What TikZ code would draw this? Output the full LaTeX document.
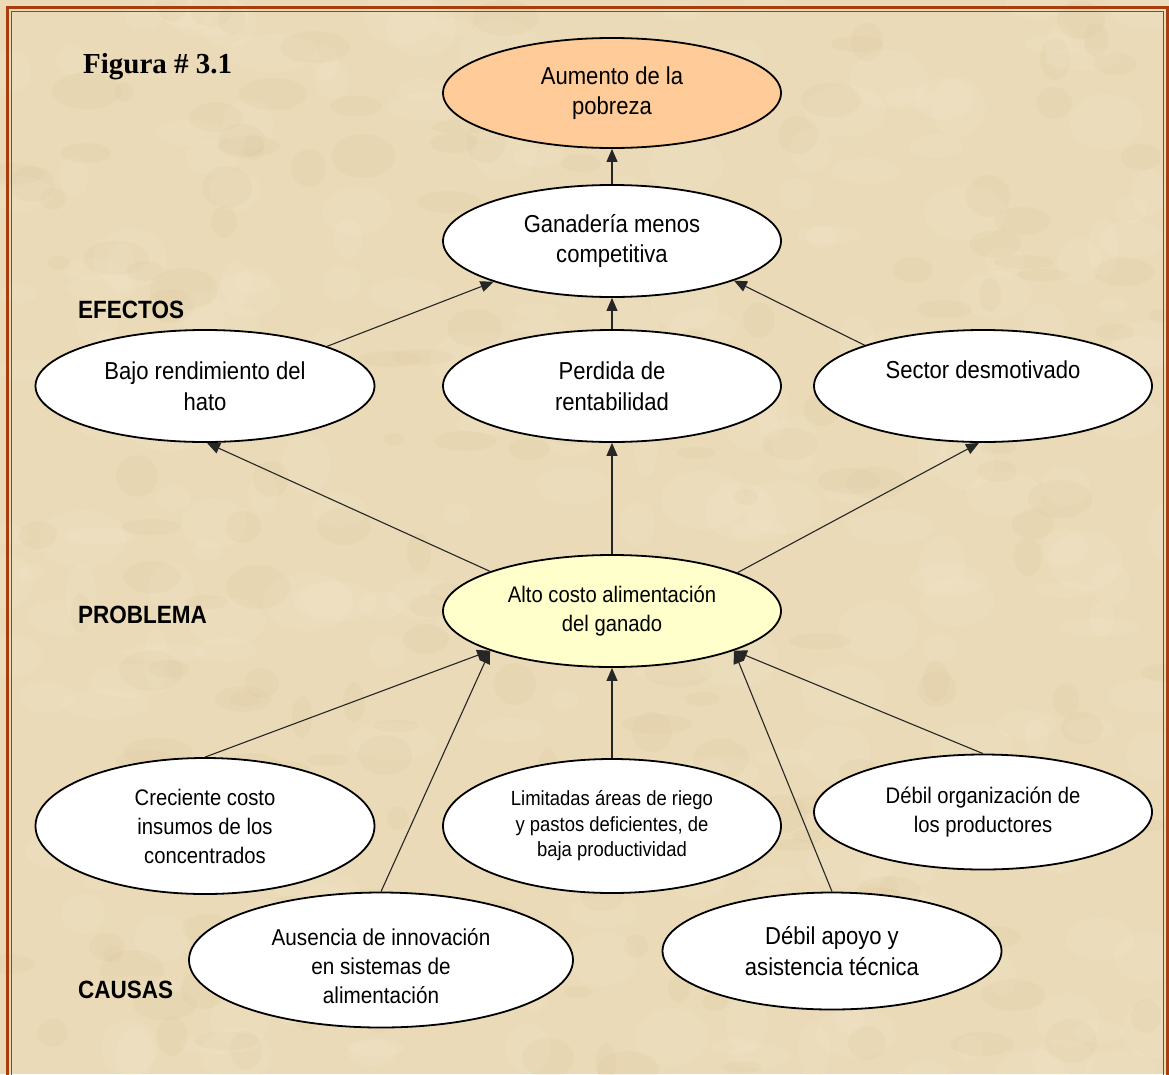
\documentclass[tikz,border=0pt]{standalone}
\usepackage{fontspec}
\setmainfont{Liberation Sans}[FakeStretch=0.9]
\newfontfamily\figfont{Liberation Serif}
\newfontfamily\labfont{Liberation Sans}[FakeStretch=0.9]
\usetikzlibrary{shapes.geometric,arrows.meta}
\definecolor{bgc}{RGB}{234,218,183}
\definecolor{texlight}{RGB}{246,234,208}
\definecolor{texdark}{RGB}{214,192,150}
\definecolor{framec}{RGB}{168,62,14}
\definecolor{orangefill}{RGB}{255,204,153}
\definecolor{yellowfill}{RGB}{255,255,204}
\tikzset{
  ell/.style={ellipse, draw=black, line width=1.8pt, fill=white, inner sep=0pt, align=center},
  bigtxt/.style={font=\fontsize{24.5}{30.5}\selectfont},
  midtxt/.style={font=\fontsize{22.5}{29}\selectfont},
  smalltxt/.style={font=\fontsize{20.5}{25.5}\selectfont},
  lab/.style={anchor=west, inner sep=0pt, font=\labfont\bfseries\fontsize{25}{28}\selectfont},
  arr/.style={-{Triangle[length=13pt,width=11pt]}, line width=1.1pt, draw=black!85},
}
\begin{document}
\begin{tikzpicture}[x=1pt,y=-1pt]
\useasboundingbox (0,0) rectangle (1169,1074);
\clip (0,0) rectangle (1169,1074);
\fill[bgc] (0,0) rectangle (1169,1074);
\pgfmathsetseed{11}
\foreach \i in {1,...,260}{
  \pgfmathsetmacro\xx{random(0,1169)}
  \pgfmathsetmacro\yy{random(0,1074)}
  \pgfmathsetmacro\ra{random(12,45)}
  \pgfmathsetmacro\rb{random(8,30)}
  \fill[texlight, opacity=0.16] (\xx,\yy) ellipse ({\ra} and {\rb});
}
\foreach \i in {1,...,200}{
  \pgfmathsetmacro\xx{random(0,1169)}
  \pgfmathsetmacro\yy{random(0,1074)}
  \pgfmathsetmacro\ra{random(10,35)}
  \pgfmathsetmacro\rb{random(6,22)}
  \fill[texdark, opacity=0.12] (\xx,\yy) ellipse ({\ra} and {\rb});
}
% frame
\draw[framec, line width=3.3pt] (7.7,7.7) rectangle (1167.3,1100);
\draw[framec, line width=1.3pt] (11.8,11.8) rectangle (1163.5,1100);

% title and labels
\node[anchor=base west, inner sep=0pt, font=\figfont\bfseries\fontsize{29}{31}\selectfont] (fig) at (83,73) {Figura \# 3.1};
\node[lab] (efectos) at (78,310) {EFECTOS};
\node[lab] (problema) at (78,615) {PROBLEMA};
\node[lab] (causas) at (78,990) {CAUSAS};

% effects
\node[ell, fill=orangefill, bigtxt, minimum width=338pt, minimum height=110pt] (aum) at (612,93) {Aumento de la\\pobreza};
\node[ell, bigtxt, minimum width=338pt, minimum height=112pt] (gan) at (612,241) {Ganadería menos\\competitiva};
\node[ell, bigtxt, minimum width=339pt, minimum height=112pt] (bajo) at (205,386) {Bajo rendimiento del\\hato};
\node[ell, bigtxt, minimum width=338pt, minimum height=112pt] (perd) at (612,386) {Perdida de\\rentabilidad};
\node[ell, minimum width=338pt, minimum height=112pt] (sector) at (983,386) {};
\node[bigtxt] (sectortxt) at (983,370) {Sector desmotivado};

% problem
\node[ell, fill=yellowfill, midtxt, minimum width=338pt, minimum height=112pt] (alto) at (612,611) {Alto costo alimentación\\del ganado};

% causes
\node[ell, midtxt, minimum width=339pt, minimum height=136pt] (crec) at (205,826) {Creciente costo\\insumos de los\\concentrados};
\node[ell, smalltxt, minimum width=338pt, minimum height=134pt] (lim) at (612,826) {Limitadas áreas de riego\\y pastos deficientes, de\\baja productividad};
\node[ell, midtxt, minimum width=338pt, minimum height=115pt] (org) at (983,812) {Débil organización de\\los productores};
\node[ell, minimum width=384pt, minimum height=135pt] (aus) at (381,960) {};
\node[font=\fontsize{23}{29}\selectfont, align=center] (austxt) at (381,966) {Ausencia de innovación\\en sistemas de\\alimentación};
\node[ell, bigtxt, minimum width=339pt, minimum height=117pt] (apoyo) at (832,951) {Débil apoyo y\\asistencia técnica};

% connectors
\draw[arr] (gan.north) -- (aum.south);
\draw[arr] (bajo.18.2) -- (gan.-161.7);
\draw[arr] (perd.north) -- (gan.south);
\draw[arr] (sector.161.7) -- (gan.-18.7);
\draw[arr] (alto.162.6) -- (bajo.-88);
\draw[arr] (alto.north) -- (perd.south);
\draw[arr] (alto.17.4) -- (sector.-94);
\draw[arr] (crec.north) -- (alto.-162);
\draw[arr] (aus.north) -- (alto.-162);
\draw[arr] (lim.north) -- (alto.south);
\draw[arr] (apoyo.north) -- (alto.-18);
\draw[arr] (org.north) -- (alto.-18);
\end{tikzpicture}
\end{document}
